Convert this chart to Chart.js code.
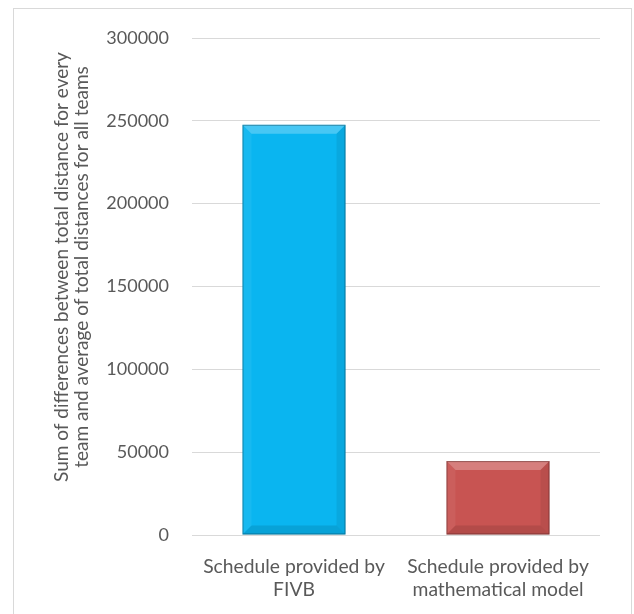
<!DOCTYPE html>
<html>
<head>
<meta charset="utf-8">
<script src="https://cdn.jsdelivr.net/npm/chart.js@4.4.0/dist/chart.umd.min.js"></script>
<style>
  html, body { margin: 0; padding: 0; background: #fff; overflow: hidden; }
  #wrap { position: absolute; left: 0; top: 0; width: 634px; height: 614px; }
  #frame { position: absolute; left: 13px; top: 8px; width: 617px; height: 620px; border: 1px solid #d9d9d9; pointer-events: none; }
</style>
</head>
<body>
<div id="wrap">
  <canvas id="myChart" width="634" height="614"></canvas>
  <div id="frame"></div>
</div>
<script>
// data
let schedules = [['Schedule provided by', 'FIVB'], ['Schedule provided by', 'mathematical model']];
let distanceSums = [247600, 44600];
let barColors = ['#0ab5f0', '#c85452'];
let yTitle = ['Sum of differences between total distance for every', 'team and average of total distances for all teams'];

// fake excel bevel on top of each bar
let bevel = {
  id: 'bevel',
  afterDatasetsDraw(chart) {
    let ctx = chart.ctx;
    chart.getDatasetMeta(0).data.forEach((bar) => {
      let l = bar.x - bar.width / 2, r = bar.x + bar.width / 2;
      let t = bar.y, b = bar.base;
      let d = Math.min(9, (b - t) / 3);
      let side = (pts, color) => {
        ctx.beginPath();
        ctx.moveTo(pts[0][0], pts[0][1]);
        pts.slice(1).forEach((p) => ctx.lineTo(p[0], p[1]));
        ctx.closePath();
        ctx.fillStyle = color;
        ctx.fill();
      };
      ctx.save();
      side([[l, t], [r, t], [r - d, t + d], [l + d, t + d]], 'rgba(255,255,255,0.25)');
      side([[l, t], [l + d, t + d], [l + d, b - d], [l, b]], 'rgba(255,255,255,0.06)');
      side([[r, t], [r, b], [r - d, b - d], [r - d, t + d]], 'rgba(0,0,0,0.07)');
      side([[l, b], [l + d, b - d], [r - d, b - d], [r, b]], 'rgba(0,0,0,0.1)');
      ctx.strokeStyle = 'rgba(0,0,0,0.3)';
      ctx.lineWidth = 1;
      ctx.strokeRect(l + 0.5, t + 0.5, r - l - 1, b - t - 1);
      ctx.restore();
    });
  }
};

// y title placed like the excel one (a bit above the middle of the axis)
let sideTitle = {
  id: 'sideTitle',
  afterDraw(chart) {
    let ctx = chart.ctx;
    ctx.save();
    ctx.fillStyle = '#595959';
    ctx.font = '19px Lato';
    ctx.textAlign = 'center';
    ctx.textBaseline = 'middle';
    ctx.translate(72, 267);
    ctx.rotate(-Math.PI / 2);
    ctx.fillText(yTitle[0], 0, -10);
    ctx.fillText(yTitle[1], 0, 10);
    ctx.restore();
  }
};

var ctx = document.getElementById('myChart').getContext('2d');
var myChart = new Chart(ctx, {
  type: 'bar',
  data: {
    labels: schedules,
    datasets: [{
      data: distanceSums,
      backgroundColor: barColors,
      borderWidth: 0,
      categoryPercentage: 1,
      barPercentage: 0.505
    }]
  },
  options: {
    responsive: false,
    animation: false,
    layout: { padding: { top: 38, right: 34, bottom: 0, left: 0 } },
    plugins: { legend: { display: false }, tooltip: { enabled: false } },
    scales: {
      x: {
        grid: { display: false },
        border: { display: false },
        ticks: {
          color: '#595959',
          font: { family: 'Lato', size: 19.3, lineHeight: 1.2 },
          padding: 12,
          maxRotation: 0
        },
        afterFit: (scale) => { scale.height = 614 - 535; }
      },
      y: {
        min: 0,
        max: 300000,
        grid: { color: '#d9d9d9', drawTicks: false },
        border: { display: false },
        ticks: {
          stepSize: 50000,
          color: '#595959',
          font: { family: 'Lato', size: 18 },
          padding: 23,
          callback: (v) => String(v)
        },
        afterFit: (scale) => { scale.width = 192; }
      }
    }
  },
  plugins: [bevel, sideTitle]
});
</script>
</body>
</html>
